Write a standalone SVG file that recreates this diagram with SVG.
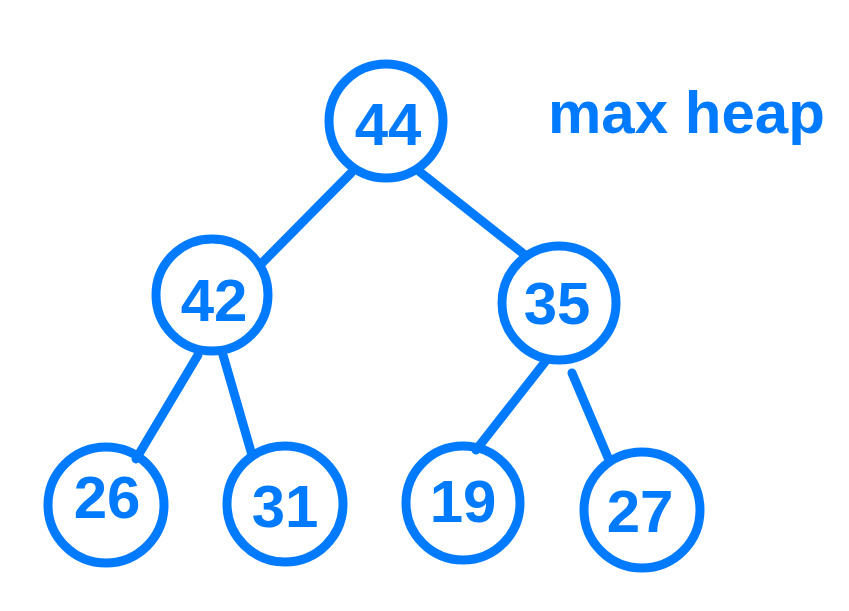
<svg xmlns="http://www.w3.org/2000/svg" width="849" height="611" viewBox="0 0 849 611">
<style>
.n{fill:none;stroke:#007bff;stroke-width:9}
.e{stroke:#007bff;stroke-width:9;stroke-linecap:round}
.t{font-family:"Liberation Sans",Arial,sans-serif;font-weight:bold;font-size:60px;fill:#007bff;text-anchor:middle}
</style>
<rect width="849" height="611" fill="#ffffff"/>
<g id="connectors">
<line class="e" x1="351" y1="173" x2="261" y2="264"/>
<line class="e" x1="420" y1="172" x2="525" y2="255"/>
<line class="e" x1="198" y1="355" x2="136" y2="459"/>
<line class="e" x1="223" y1="355" x2="252" y2="455"/>
<line class="e" x1="545" y1="362" x2="476" y2="450"/>
<line class="e" x1="572" y1="373" x2="609" y2="460"/>
</g>
<g id="n44"><circle class="n" cx="386" cy="121" r="57"/><text class="t" x="388" y="145">44</text></g>
<g id="n42"><circle class="n" cx="212" cy="295" r="56"/><text class="t" x="214" y="321">42</text></g>
<g id="n35"><circle class="n" cx="559" cy="303" r="57"/><text class="t" x="557" y="324">35</text></g>
<g id="n26"><circle class="n" cx="106" cy="505" r="58"/><text class="t" x="107" y="518">26</text></g>
<g id="n31"><circle class="n" cx="285" cy="504" r="58"/><text class="t" x="285" y="527">31</text></g>
<g id="n19"><circle class="n" cx="463" cy="503" r="57"/><text class="t" x="463" y="522">19</text></g>
<g id="n27"><circle class="n" cx="642" cy="510" r="58"/><text class="t" x="640" y="532">27</text></g>
<g id="title"><text x="548" y="133" font-family="Liberation Sans,Arial,sans-serif" font-weight="bold" font-size="60" fill="#007bff">max heap</text></g>
</svg>
